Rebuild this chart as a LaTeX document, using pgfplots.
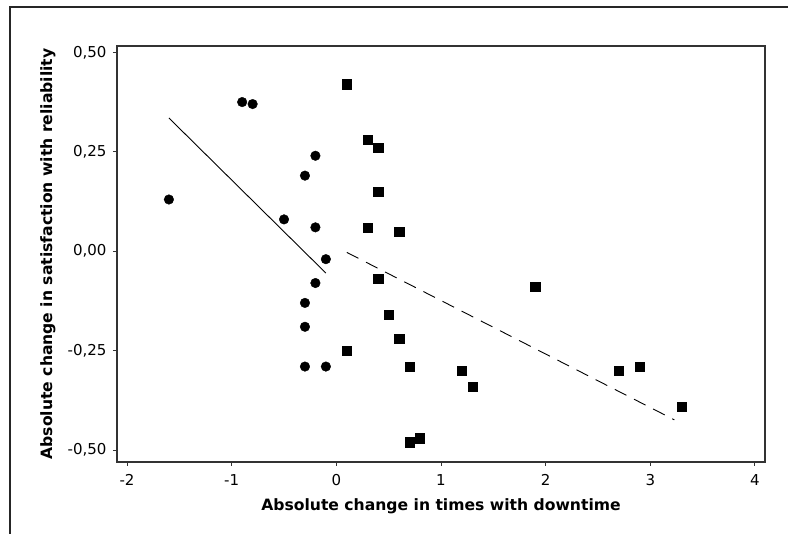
\documentclass[border=0pt]{standalone}
\usepackage{pgfplots}
\pgfplotsset{compat=1.18}
\usepackage{fontspec}
\setmainfont{DejaVu Sans}
\begin{document}
\begin{tikzpicture}[x=1pt,y=1pt]
\path[use as bounding box] (0,0) rectangle (788,534);
% outer frame
\draw[line width=2pt, black!85] (10,0) -- (10,527) -- (788,527);
\begin{axis}[
  at={(117pt,72pt)}, anchor=south west,
  width=648pt, height=416pt, scale only axis,
  xmin=-2.096, xmax=4.096, ymin=-0.530, ymax=0.516,
  xtick={-2,-1,0,1,2,3,4},
  xticklabels={-2,-1,0,1,2,3,4},
  ytick={-0.5,-0.25,0,0.25,0.5},
  yticklabels={{-0,50},{-0,25},{0,00},{0,25},{0,50}},
  /pgf/number format/assume math mode=true,
  tick align=outside, major tick length=4pt,
  xtick pos=bottom, ytick pos=left,
  tick style={line width=1pt, black!80},
  axis line style={line width=1.3pt, black!80},
  ticklabel style={font=\fontsize{15}{18}\selectfont},
  xticklabel style={yshift=-5pt},
  yticklabel style={xshift=-3pt},
  xlabel={Absolute change in times with downtime},
  ylabel={Absolute change in satisfaction with reliability},
  label style={font=\bfseries\fontsize{15.6}{18}\selectfont},
  xlabel style={at={(axis description cs:0.5,-0.117)}, anchor=base},
  ylabel style={at={(axis description cs:-0.1003,0.5)}, anchor=base},
]
% fitted lines
\addplot[black, line width=0.9pt, mark=none] coordinates {(-1.6,0.335) (-0.1,-0.055)};
\addplot[black, line width=0.9pt, mark=none, dash pattern=on 13pt off 8.5pt]
  coordinates {(0.1,-0.003) (3.23,-0.424)};
% group with negative change
\addplot[only marks, mark=*, mark size=4.8pt, black] coordinates {
  (-1.6,0.13) (-0.9,0.375) (-0.8,0.37) (-0.5,0.08) (-0.3,0.19) (-0.2,0.24)
  (-0.2,0.06) (-0.1,-0.02) (-0.2,-0.08) (-0.3,-0.13) (-0.3,-0.19)
  (-0.3,-0.29) (-0.1,-0.29)
};
% group with positive change
\addplot[only marks, mark=square*, mark size=4.6pt, black] coordinates {
  (0.1,0.42) (0.3,0.28) (0.4,0.26) (0.4,0.15) (0.3,0.06) (0.6,0.05)
  (0.4,-0.07) (0.5,-0.16) (0.6,-0.22) (0.1,-0.25) (0.7,-0.29) (1.2,-0.30)
  (1.3,-0.34) (1.9,-0.09) (2.7,-0.30) (2.9,-0.29) (3.3,-0.39)
  (0.7,-0.48) (0.8,-0.47)
};
\end{axis}
\end{tikzpicture}
\end{document}
